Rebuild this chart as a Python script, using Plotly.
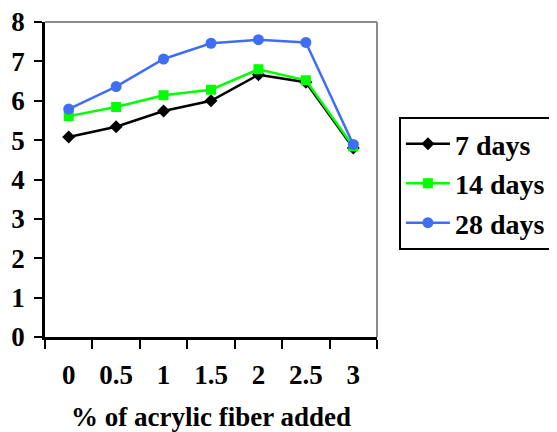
import plotly.graph_objects as go

categories = ["0", "0.5", "1", "1.5", "2", "2.5", "3"]
days7 = [5.08, 5.34, 5.74, 6.0, 6.66, 6.47, 4.80]
days14 = [5.61, 5.84, 6.14, 6.28, 6.80, 6.52, 4.84]
days28 = [5.79, 6.36, 7.06, 7.46, 7.55, 7.48, 4.89]
names = ["7 days", "14 days", "28 days"]
yticks = [0, 1, 2, 3, 4, 5, 6, 7, 8]

FONT = "Liberation Serif"
FS = 27
fig = go.Figure()
styles = [
    dict(color="black", symbol="diamond", size=10),
    dict(color="#00ff00", symbol="square", size=10),
    dict(color="#3f6ef5", symbol="circle", size=11),
]
for vals, nm, st in zip([days7, days14, days28], names, styles):
    fig.add_trace(go.Scatter(
        x=categories, y=vals, name="<b>%s</b>" % nm, mode="lines+markers",
        line=dict(color=st["color"], width=2.5),
        marker=dict(color=st["color"], symbol=st["symbol"], size=st["size"]),
        legendgroup=nm,
    ))

fig.update_layout(
    width=549, height=424,
    margin=dict(l=37, r=180, t=14, b=95, autoexpand=False),
    paper_bgcolor="white", plot_bgcolor="white",
    font=dict(family=FONT, size=FS, color="black"),
    showlegend=True,
    legend=dict(
        x=1.066, y=0.698, xanchor="left", yanchor="top",
        bordercolor="black", borderwidth=2, bgcolor="white",
        font=dict(family=FONT, size=28, color="black", weight="bold"),
        traceorder="grouped", tracegroupgap=0, itemwidth=44,
    ),
    xaxis=dict(
        type="category", showgrid=False, showline=True, linecolor="black", linewidth=2.5,
        ticks="outside", tickson="boundaries", ticklen=9, tickwidth=2, tickcolor="black",
        tickmode="array", tickvals=categories, ticktext=["<b>%s</b>" % c for c in categories],
        tickfont=dict(family=FONT, size=FS, weight="bold"), ticklabelstandoff=12,
        title=dict(text="<b>% of acrylic fiber added</b>", font=dict(family=FONT, size=FS, weight="bold"), standoff=23),
        range=[-0.5, 6.5], zeroline=False,
    ),
    yaxis=dict(
        range=[0, 8], showgrid=False, showline=True, linecolor="black", linewidth=2.5,
        ticks="outside", ticklen=8, tickwidth=2, tickcolor="black",
        tickmode="array", tickvals=yticks, ticktext=["<b>%d</b>" % v for v in yticks],
        tickfont=dict(family=FONT, size=FS, weight="bold"), ticklabelstandoff=4,
        ticklabeloverflow="allow", zeroline=False,
    ),
)
fig.add_shape(type="line", xref="paper", yref="paper", x0=0, x1=1, y0=1, y1=1,
              line=dict(color="#8c8c8c", width=2))
fig.add_shape(type="line", xref="paper", yref="paper", x0=1, x1=1, y0=0, y1=1,
              line=dict(color="#8c8c8c", width=2))
fig.write_html("out.html")
